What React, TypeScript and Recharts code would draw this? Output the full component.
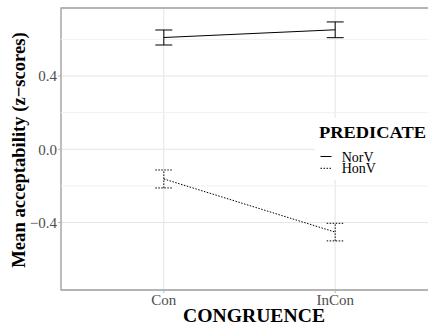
import React from 'react';
import {
  ComposedChart, Line, XAxis, YAxis, CartesianGrid, ErrorBar, ReferenceLine, ReferenceArea,
} from 'recharts';

const categories = ['Con', 'InCon'];
const norvMean = [0.61, 0.652];
const norvErr = [0.041, 0.043];
const honvMean = [-0.162, -0.452];
const honvErr = [0.049, 0.048];
const yTicks = [-0.4, 0, 0.4];
const minorBreaks = [-0.2, 0.2, 0.6];
const seriesNames = ['NorV', 'HonV'];

const data = categories.map((c, i) => ({
  x: i + 1,
  cat: c,
  norv: norvMean[i],
  norvErr: norvErr[i],
  honv: honvMean[i],
  honvErr: honvErr[i],
}));

const FONT = '"Liberation Serif", "Times New Roman", serif';
const DOT = '1.5 1.5';

const fmtY = (v: number) => (v < 0 ? '\u2212' + Math.abs(v).toFixed(1) : v.toFixed(1));

export default function App() {
  return (
    <div style={{ position: 'absolute', left: 0, top: 0, width: 428, height: 326, background: '#fff', fontFamily: FONT }}>
      <ComposedChart
        width={428}
        height={326}
        data={data}
        margin={{ top: 8, right: -10, left: 0, bottom: 0 }}
      >
        <CartesianGrid stroke="#E4E4E4" strokeWidth={1} />
        {minorBreaks.map((m) => (
          <ReferenceLine key={m} y={m} stroke="#F1F1F1" strokeWidth={1} />
        ))}
        <XAxis
          dataKey="x"
          type="number"
          domain={[0.4, 2.6]}
          ticks={[1, 2]}
          allowDataOverflow
          tickFormatter={(v: number) => categories[v - 1]}
          height={36}
          tickSize={3}
          tickMargin={1}
          axisLine={false}
          tickLine={{ stroke: '#B3B3B3' }}
          tick={{ fill: '#4D4D4D', fontSize: 15, fontFamily: FONT }}
          label={{
            content: () => (
              <text x={254} y={321.5} textAnchor="middle" fontFamily={FONT} fontWeight="bold" fontSize={18}
                textLength={142} lengthAdjust="spacingAndGlyphs" fill="#000">CONGRUENCE</text>
            ),
          }}
        />
        <YAxis
          type="number"
          domain={[-0.768, 0.771]}
          ticks={yTicks}
          allowDataOverflow
          tickFormatter={fmtY}
          width={61}
          tickSize={3}
          tickMargin={1}
          axisLine={false}
          tickLine={{ stroke: '#B3B3B3' }}
          tick={{ fill: '#4D4D4D', fontSize: 15, fontFamily: FONT }}
          label={{
            content: () => (
              <text x={25} y={150} transform="rotate(-90, 25, 150)" textAnchor="middle" fontFamily={FONT}
                fontWeight="bold" fontSize={18.6} fill="#000">Mean acceptability (z{'\u2212'}scores)</text>
            ),
          }}
        />
        <ReferenceArea x1={0.4} x2={2.6} y1={-0.768} y2={0.771} fill="none" stroke="#A0A0A0" strokeWidth={1.3} ifOverflow="visible" />
        <Line dataKey="norv" stroke="#000" strokeWidth={1} dot={false} isAnimationActive={false}>
          <ErrorBar dataKey="norvErr" direction="y" width={8.5} stroke="#000" strokeWidth={1} isAnimationActive={false} />
        </Line>
        <Line dataKey="honv" stroke="#000" strokeWidth={1} strokeDasharray={DOT} dot={false} isAnimationActive={false}>
          <ErrorBar dataKey="honvErr" direction="y" width={8.5} stroke="#000" strokeWidth={1} strokeDasharray={DOT} isAnimationActive={false} />
        </Line>
      </ComposedChart>
      <svg style={{ position: 'absolute', left: 315, top: 118 }} width={113} height={62}>
        <rect x={0} y={0} width={113} height={62} fill="#fff" />
        <text x={4} y={19.5} fontFamily={FONT} fontWeight="bold" fontSize={17} textLength={107}
          lengthAdjust="spacingAndGlyphs" fill="#000">PREDICATE</text>
        <line x1={5.5} x2={16.5} y1={38.5} y2={38.5} stroke="#000" strokeWidth={1} />
        <text x={26.7} y={43.5} fontFamily={FONT} fontSize={14} fill="#000">{seriesNames[0]}</text>
        <line x1={5.5} x2={16.5} y1={50.3} y2={50.3} stroke="#000" strokeWidth={1} strokeDasharray={DOT} />
        <text x={26.7} y={55.3} fontFamily={FONT} fontSize={14} fill="#000">{seriesNames[1]}</text>
      </svg>
    </div>
  );
}
